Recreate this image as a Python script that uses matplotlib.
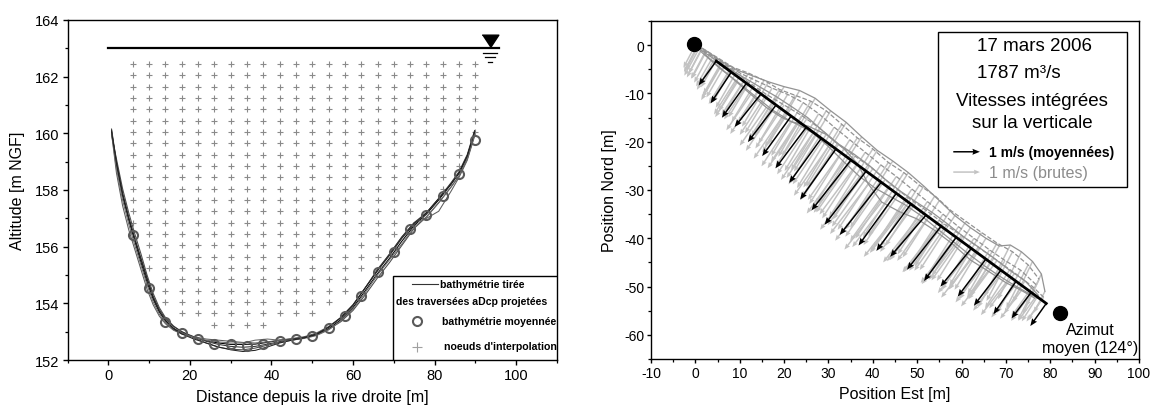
#!/usr/bin/env python
# cross section (bathymetry + nodes) and depth averaged velocities, 17 mars 2006

import matplotlib as mpl
mpl.use('Agg')
import matplotlib.pyplot as plt
from matplotlib.patches import Rectangle
import numpy as np

plt.rcParams['font.family'] = ['Liberation Sans', 'DejaVu Sans']
plt.rcParams['axes.unicode_minus'] = False
plt.rcParams['axes.linewidth'] = 1.0

##########################
# LEFT : cross section

# water surface
z_surf = 163.0
x_surf = [0.0, 95.8]

# abscissa shared by the projected aDcp bathymetries
prof_x = [0.8, 2, 3.5, 5, 6.5, 8, 9.5, 11, 12.5, 14, 16, 18, 21, 24, 27, 30, 33, 36, 39,
          42, 45, 48, 51, 54, 57, 60, 63, 66, 69, 72, 75, 78, 81, 84, 86, 88, 89.8]
prof_1 = [160.1, 158.9, 157.8, 156.95, 156.2, 155.45, 154.75, 154.15, 153.7, 153.4, 153.12, 152.95,
          152.8, 152.68, 152.6, 152.55, 152.55, 152.56, 152.62, 152.7, 152.74, 152.8, 152.9, 153.1,
          153.42, 153.85, 154.45, 155.05, 155.6, 156.2, 156.75, 157.15, 157.65, 158.2, 158.6, 159.2, 160.05]
prof_2 = [159.95, 159.1, 158.05, 157.2, 156.45, 155.75, 155.0, 154.35, 153.85, 153.5, 153.2, 153.0,
          152.78, 152.6, 152.45, 152.38, 152.36, 152.42, 152.52, 152.62, 152.7, 152.78, 152.88, 153.08,
          153.35, 153.75, 154.3, 154.9, 155.45, 156.05, 156.65, 157.05, 157.55, 158.1, 158.5, 159.1, 159.95]
prof_3 = [160.0, 158.6, 157.45, 156.6, 155.9, 155.2, 154.5, 153.95, 153.55, 153.28, 153.05, 152.92,
          152.82, 152.74, 152.7, 152.66, 152.62, 152.6, 152.64, 152.7, 152.76, 152.82, 152.95, 153.18,
          153.5, 153.95, 154.55, 155.15, 155.75, 156.35, 156.85, 157.0, 157.25, 157.95, 158.45, 159.05, 159.9]
prof_4 = [160.15, 159.0, 157.9, 157.05, 156.3, 155.6, 154.9, 154.25, 153.78, 153.45, 153.18, 153.0,
          152.82, 152.66, 152.55, 152.48, 152.45, 152.48, 152.56, 152.65, 152.72, 152.8, 152.92, 153.16,
          153.48, 153.92, 154.55, 155.2, 155.75, 156.35, 156.85, 157.2, 157.7, 158.25, 158.65, 159.25, 160.1]
prof_5 = [160.0, 158.75, 157.65, 156.8, 156.05, 155.35, 154.65, 154.05, 153.62, 153.32, 153.08, 152.94,
          152.8, 152.7, 152.64, 152.6, 152.6, 152.7, 152.74, 152.7, 152.7, 152.76, 152.86, 153.06,
          153.38, 153.8, 154.38, 155.0, 155.55, 156.1, 156.7, 157.05, 157.55, 158.1, 158.5, 159.1, 159.95]
prof_6 = [160.05, 158.95, 157.85, 157.0, 156.25, 155.55, 154.85, 154.2, 153.72, 153.38, 153.1, 152.92,
          152.74, 152.6, 152.46, 152.36, 152.3, 152.34, 152.46, 152.6, 152.7, 152.78, 152.9, 153.15,
          153.5, 153.95, 154.55, 155.15, 155.7, 156.3, 156.8, 157.2, 157.7, 158.2, 158.6, 159.2, 160.05]
profiles = [prof_1, prof_2, prof_3, prof_4, prof_5, prof_6]
prof_cols = ['#000000', '#4a4a4a', '#5c5c5c', '#333333', '#6a6a6a', '#222222']

# averaged bathymetry
mean_x = [6, 10, 14, 18, 22, 26, 30, 34, 38, 42, 46, 50, 54, 58, 62, 66, 70, 74, 78, 82, 86, 90]
mean_z = [156.41, 154.55, 153.35, 152.96, 152.74, 152.56, 152.57, 152.48, 152.58, 152.68, 152.74,
          152.86, 153.12, 153.54, 154.27, 155.09, 155.8, 156.63, 157.1, 157.8, 158.55, 159.78]

# interpolation nodes : columns, rows and lowest row of each column
node_x = [6, 10, 14, 18, 22, 26, 30, 34, 38, 42, 46, 50, 54, 58, 62, 66, 70, 74, 78, 82, 86, 90]
node_rows = [162.45, 162.05, 161.65, 161.25, 160.85, 160.45, 160.05, 159.65, 159.25, 158.85, 158.45, 158.05,
             157.65, 157.25, 156.85, 156.45, 156.05, 155.65, 155.25, 154.85, 154.45, 154.05, 153.65, 153.25]
node_zmin = [156.85, 155.25, 154.05, 153.65, 153.65, 153.25, 153.25, 153.25, 153.25, 153.65, 153.65,
             153.65, 154.05, 154.45, 155.25, 155.65, 156.45, 157.25, 157.65, 158.05, 158.85, 160.05]

# water level symbol
sym_x = 93.55
sym_tri_z = 163.25
sym_lines_z = [162.82, 162.68, 162.53]
sym_lines_half = [1.8, 1.2, 0.55]

##########################
# RIGHT : velocities in plan view

# banks
start_pt = (-0.2, 0.3)
end_pt = (82.3, -55.5)

# averaged velocities along the mean azimuth line
bx = [4.7, 8.1, 11.5, 14.8, 18.2, 21.6, 25.0, 28.4, 31.7, 35.1, 38.5, 41.9, 45.3, 48.6, 52.0, 55.4,
      58.8, 62.2, 65.5, 68.9, 72.3, 75.7, 79.1]
by = [-3.3, -5.6, -7.9, -10.1, -12.4, -14.7, -17.0, -19.3, -21.5, -23.8, -26.1, -28.4, -30.7, -32.9,
      -35.2, -37.5, -39.8, -42.1, -44.3, -46.6, -48.9, -51.2, -53.5]
bu = [-0.66, -0.78, -0.92, -0.99, -1.06, -1.09, -1.16, -1.21, -1.35, -1.49, -1.56, -1.56, -1.42, -1.30,
      -1.35, -1.28, -1.21, -1.16, -1.06, -1.02, -0.85, -0.74, -0.60]
bv = [-0.84, -1.08, -1.19, -1.14, -1.28, -1.38, -1.42, -1.54, -1.75, -1.74, -1.85, -1.82, -1.80, -1.62,
      -1.44, -1.50, -1.51, -1.32, -1.30, -1.23, -1.14, -0.90, -0.78]

# boat tracks and raw velocities
trA_x = [0.0, 2.5, 6.0, 9.5, 13.0, 16.5, 20.0, 23.5, 27.0, 30.5, 34.0, 37.5, 41.0, 44.5, 48.0, 51.5,
         55.0, 58.5, 62.0, 65.5, 68.5, 71.0, 73.5, 76.0, 78.0, 78.8]
trA_y = [0.0, -1.2, -3.4, -5.2, -6.4, -7.6, -8.6, -9.4, -11.0, -13.6, -16.0, -19.0, -21.8, -24.0, -26.4,
         -29.2, -32.2, -35.3, -37.8, -40.0, -41.6, -41.4, -42.8, -44.8, -47.4, -51.0]
trA_u = [-0.45, -0.55, -0.70, -0.82, -0.92, -1.00, -1.10, -1.18, -1.25, -1.38, -1.50, -1.62, -1.66, -1.60,
         -1.50, -1.44, -1.38, -1.32, -1.26, -1.18, -1.08, -0.98, -0.88, -0.74, -0.58, -0.42]
trA_v = [-0.78, -0.95, -1.12, -1.30, -1.42, -1.55, -1.70, -1.86, -2.00, -2.10, -2.22, -2.30, -2.38, -2.30,
         -2.20, -2.06, -1.96, -1.88, -1.84, -1.78, -1.74, -1.78, -1.64, -1.42, -1.12, -0.74]

trB_x = [1.5, 5.0, 8.5, 12.0, 15.5, 19.0, 22.5, 26.0, 29.5, 33.0, 36.5, 40.0, 43.5, 47.0, 50.5, 54.0,
         57.5, 61.0, 64.5, 68.0, 71.5, 75.0, 77.5]
trB_y = [-0.6, -2.6, -4.6, -5.8, -7.3, -9.2, -10.4, -11.6, -13.6, -16.4, -19.2, -21.5, -24.3, -26.4,
         -29.0, -31.2, -34.2, -36.5, -38.8, -41.0, -42.8, -45.5, -48.5]
trB_u = [-0.50, -0.62, -0.76, -0.88, -0.98, -1.06, -1.14, -1.22, -1.32, -1.44, -1.58, -1.64, -1.62, -1.54,
         -1.46, -1.40, -1.34, -1.28, -1.20, -1.10, -0.98, -0.82, -0.62]
trB_v = [-0.88, -1.02, -1.20, -1.34, -1.46, -1.62, -1.78, -1.92, -2.05, -2.18, -2.30, -2.36, -2.32, -2.24,
         -2.12, -2.02, -1.94, -1.88, -1.82, -1.76, -1.70, -1.50, -1.20]

trC_x = [0.8, 4.3, 7.8, 11.3, 14.8, 18.3, 21.8, 25.3, 28.8, 32.3, 35.8, 39.3, 42.8, 46.3, 49.8, 53.3,
         56.8, 60.3, 63.8, 67.3, 70.8, 74.3, 77.3]
trC_y = [-0.8, -2.9, -5.0, -6.9, -8.8, -10.7, -12.8, -15.0, -17.8, -20.5, -22.6, -25.0, -27.8, -30.3,
         -32.5, -34.6, -37.0, -39.6, -41.8, -44.1, -46.6, -48.8, -51.8]
trC_u = [-0.55, -0.66, -0.80, -0.90, -0.98, -1.04, -1.12, -1.20, -1.30, -1.42, -1.52, -1.58, -1.50, -1.40,
         -1.36, -1.30, -1.24, -1.18, -1.10, -1.02, -0.92, -0.78, -0.62]
trC_v = [-0.92, -1.06, -1.20, -1.26, -1.36, -1.46, -1.56, -1.68, -1.84, -1.92, -2.02, -2.05, -1.98, -1.85,
         -1.72, -1.68, -1.62, -1.52, -1.46, -1.40, -1.32, -1.14, -0.90]

trD_x = [1.2, 5.5, 9.5, 13.5, 17.5, 21.5, 25.5, 29.5, 33.5, 36.5, 39.0, 42.0, 46.0, 50.0, 54.0, 58.0,
         62.0, 66.0, 70.0, 73.5, 76.5]
trD_y = [-1.3, -4.8, -7.6, -10.6, -13.5, -15.8, -16.8, -18.5, -21.5, -24.5, -28.8, -32.5, -34.5, -36.0,
         -38.4, -41.2, -44.5, -46.8, -49.2, -50.8, -52.4]
trD_u = [-0.52, -0.70, -0.84, -0.94, -1.02, -1.10, -1.18, -1.26, -1.36, -1.42, -1.44, -1.40, -1.34, -1.28,
         -1.22, -1.16, -1.10, -1.02, -0.94, -0.80, -0.62]
trD_v = [-0.90, -1.10, -1.22, -1.30, -1.40, -1.55, -1.66, -1.72, -1.76, -1.76, -1.72, -1.64, -1.56, -1.50,
         -1.44, -1.38, -1.30, -1.22, -1.12, -0.98, -0.78]

trE_x = [0.3, 4.0, 8.0, 12.0, 16.0, 20.0, 24.0, 28.0, 32.0, 36.0, 40.0, 44.0, 48.0, 52.0, 56.0, 60.0,
         64.0, 68.0, 72.0, 76.0, 78.5]
trE_y = [-0.4, -2.4, -4.9, -7.7, -10.2, -12.4, -14.6, -17.2, -20.4, -23.0, -25.6, -28.8, -31.6, -34.2,
         -37.0, -39.4, -42.0, -44.6, -47.2, -50.0, -52.2]
trE_u = [-0.48, -0.64, -0.80, -0.92, -1.00, -1.08, -1.16, -1.24, -1.34, -1.46, -1.54, -1.52, -1.42, -1.36,
         -1.30, -1.24, -1.16, -1.08, -0.96, -0.80, -0.60]
trE_v = [-0.86, -1.02, -1.18, -1.28, -1.40, -1.50, -1.60, -1.72, -1.84, -1.94, -2.00, -1.96, -1.86, -1.72,
         -1.62, -1.54, -1.44, -1.34, -1.22, -1.04, -0.80]

trF_x = [2.0, 5.5, 9.0, 12.5, 16.0, 19.5, 23.0, 26.5, 30.0, 33.5, 37.0, 40.5, 44.0, 47.5, 51.0, 54.5,
         58.0, 61.5, 65.0, 68.5, 72.0, 75.5, 78.0]
trF_y = [-1.8, -4.6, -7.4, -10.2, -12.9, -15.0, -16.4, -18.2, -21.0, -24.2, -27.2, -29.6, -31.4, -33.2,
         -35.4, -38.0, -40.6, -43.2, -45.6, -47.8, -49.8, -51.6, -52.8]
trF_u = [-0.50, -0.66, -0.80, -0.92, -1.00, -1.06, -1.12, -1.20, -1.30, -1.40, -1.48, -1.50, -1.44, -1.36,
         -1.30, -1.26, -1.20, -1.14, -1.06, -0.98, -0.88, -0.72, -0.56]
trF_v = [-0.86, -1.04, -1.16, -1.24, -1.32, -1.42, -1.52, -1.62, -1.70, -1.78, -1.84, -1.82, -1.74, -1.64,
         -1.56, -1.50, -1.44, -1.36, -1.28, -1.20, -1.10, -0.92, -0.74]

trG_x = [0.6, 3.2, 6.8, 10.3, 13.8, 17.3, 20.8, 24.3, 27.8, 31.3, 34.8, 38.3, 41.8, 45.3, 48.8, 52.3,
         55.8, 59.3, 62.8, 66.3, 69.8, 73.3, 76.8]
trG_y = [-0.3, -1.9, -4.0, -5.9, -7.4, -8.9, -10.2, -11.9, -14.2, -17.0, -19.6, -22.2, -24.8, -27.2,
         -29.8, -32.4, -35.0, -37.6, -40.0, -42.4, -44.6, -46.6, -49.6]
trG_u = [-0.46, -0.58, -0.72, -0.84, -0.94, -1.02, -1.10, -1.20, -1.28, -1.40, -1.52, -1.62, -1.62, -1.54,
         -1.46, -1.40, -1.34, -1.28, -1.20, -1.12, -1.02, -0.88, -0.68]
trG_v = [-0.82, -0.98, -1.14, -1.30, -1.42, -1.56, -1.70, -1.84, -1.98, -2.10, -2.22, -2.28, -2.24, -2.14,
         -2.04, -1.96, -1.90, -1.84, -1.78, -1.70, -1.62, -1.48, -1.22]

tracks = [(trA_x, trA_y, trA_u, trA_v, '-'), (trB_x, trB_y, trB_u, trB_v, '--'),
          (trC_x, trC_y, trC_u, trC_v, '-'), (trD_x, trD_y, trD_u, trD_v, '-'),
          (trE_x, trE_y, trE_u, trE_v, '--'), (trF_x, trF_y, trF_u, trF_v, '-'),
          (trG_x, trG_y, trG_u, trG_v, '--')]

vel_scale = 1. / 6.   # 1 m/s drawn as 6 m

##########################

fig = plt.figure(figsize=(11.52, 4.10), dpi=100)

# ---------------- left panel
ax = fig.add_axes([0.0586, 0.1195, 0.4249, 0.8293])

# nodes
nx, nz = [], []
for xc, zmin in zip(node_x, node_zmin):
    for zr in node_rows:
        if zr >= zmin - 0.01:
            nx.append(xc)
            nz.append(zr)
ax.plot(nx, nz, '+', color='#8a8a8a', ms=5, mew=0.8, zorder=2)

for prof, col in zip(profiles, prof_cols):
    ax.plot(prof_x, prof, '-', color=col, lw=0.75, zorder=3)

ax.plot(mean_x, mean_z, 'o', mfc='none', mec='#5a5a5a', ms=6.5, mew=1.5, zorder=4)

# water level and symbol
ax.plot(x_surf, [z_surf, z_surf], '-', color='k', lw=1.6, zorder=4)
tri = [(-1, 0.76), (1, 0.76), (0, -0.76)]
ax.plot([sym_x], [sym_tri_z], marker=tri, color='k', ms=12, ls='none', zorder=5)
for zl, hl in zip(sym_lines_z, sym_lines_half):
    ax.plot([sym_x - hl, sym_x + hl], [zl, zl], '-', color='k', lw=0.9, zorder=5)

ax.set_xlim(-10, 110)
ax.set_ylim(152, 164)
ax.set_xticks(np.arange(0, 101, 20))
ax.set_xticks(np.arange(-10, 111, 10), minor=True)
ax.set_yticks(np.arange(152, 165, 2))
ax.set_yticks(np.arange(152, 165, 1), minor=True)
ax.tick_params(which='major', direction='out', length=3.5, width=1.0, labelsize=10.5, pad=2.5)
ax.tick_params(which='minor', direction='out', length=2.2, width=0.9)
ax.set_xlabel('Distance depuis la rive droite [m]', fontsize=11.5, labelpad=5)
ax.set_ylabel('Altitude [m NGF]', fontsize=11.5, labelpad=7)

# legend box
ax.add_patch(Rectangle((0.6656, 0.0), 0.3344, 0.246, transform=ax.transAxes, facecolor='white',
                       edgecolor='k', lw=1.0, zorder=6))
lfont = dict(fontsize=7.6, fontweight='bold', va='center', ha='left', transform=ax.transAxes, zorder=7)
ax.plot([0.7032, 0.7569], [0.2235, 0.2235], '-', color='#333333', lw=0.8, transform=ax.transAxes, zorder=7)
ax.text(0.761, 0.2235, 'bathymétrie tirée', **lfont)
ax.text(0.6705, 0.1735, 'des traversées aDcp projetées', **lfont)
ax.plot([0.714], [0.1156], 'o', mfc='none', mec='#5a5a5a', ms=6.5, mew=1.5, transform=ax.transAxes, zorder=7)
ax.text(0.7645, 0.1156, 'bathymétrie moyennée', **lfont)
ax.plot([0.7134], [0.0391], '+', color='#a0a0a0', ms=7, mew=0.8, transform=ax.transAxes, zorder=7)
ax.text(0.7692, 0.0412, "noeuds d'interpolation", **lfont)

# ---------------- right panel
ax2 = fig.add_axes([0.5651, 0.1220, 0.4236, 0.8244])

raw_x = np.concatenate([t[0] for t in tracks])
raw_y = np.concatenate([t[1] for t in tracks])
raw_u = np.concatenate([t[2] for t in tracks])
raw_v = np.concatenate([t[3] for t in tracks])
q_raw = ax2.quiver(raw_x, raw_y, raw_u, raw_v, angles='xy', scale_units='xy', scale=vel_scale,
                   units='dots', width=1.5, headwidth=3.2, headlength=4, headaxislength=3.6,
                   color='#c2c2c2', zorder=2)

for tx, ty, tu, tv, ls in tracks:
    ax2.plot(tx, ty, ls, color='#939393', lw=0.9, zorder=3)

q_avg = ax2.quiver(bx, by, bu, bv, angles='xy', scale_units='xy', scale=vel_scale,
                   units='dots', width=1.5, headwidth=4, headlength=5, headaxislength=4.5,
                   color='k', zorder=4)
ax2.plot([bx[0], bx[-1]], [by[0], by[-1]], '-', color='k', lw=2.0, zorder=5)

ax2.plot(*start_pt, 'o', color='k', ms=10, zorder=6)
ax2.plot(*end_pt, 'o', color='k', ms=10, zorder=6)
ax2.text(0.8996, 0.0607, 'Azimut\nmoyen (124°)', transform=ax2.transAxes, ha='center', va='center',
         fontsize=11.5, linespacing=1.2)

ax2.set_xlim(-10, 100)
ax2.set_ylim(-65, 5)
ax2.set_xticks(np.arange(-10, 101, 10))
ax2.set_xticks(np.arange(-10, 101, 5), minor=True)
ax2.set_yticks(np.arange(-60, 1, 10))
ax2.set_yticks(np.arange(-65, 6, 5), minor=True)
ax2.tick_params(which='major', direction='out', length=3.2, width=1.0, labelsize=10, pad=1.5)
ax2.tick_params(which='minor', direction='out', length=2.0, width=0.9)
ax2.set_xlabel('Position Est [m]', fontsize=11.5, labelpad=5)
ax2.set_ylabel('Position Nord [m]', fontsize=11.5, labelpad=5)

# text box
ax2.add_patch(Rectangle((0.588, 0.509), 0.3874, 0.4585, transform=ax2.transAxes, facecolor='white',
                        edgecolor='k', lw=1.0, zorder=7))
bfont = dict(transform=ax2.transAxes, ha='center', va='center', fontsize=13.5, zorder=8)
ax2.text(0.785, 0.927, '17 mars 2006', **bfont)
ax2.text(0.754, 0.849, '1787 m³/s', **bfont)
ax2.text(0.781, 0.764, 'Vitesses intégrées', **bfont)
ax2.text(0.781, 0.701, 'sur la verticale', **bfont)
qk1 = ax2.quiverkey(q_avg, 0.674, 0.613, 1, '1 m/s (moyennées)', labelpos='E', coordinates='axes',
                    labelsep=0.09, fontproperties={'weight': 'bold', 'size': 10})
qk1.set_zorder(9)
qk2 = ax2.quiverkey(q_raw, 0.674, 0.553, 1, '1 m/s (brutes)', labelpos='E', coordinates='axes',
                    labelsep=0.09, labelcolor='#8c8c8c', fontproperties={'size': 11.5})
qk2.set_zorder(9)

plt.savefig('out.png', dpi=100)
